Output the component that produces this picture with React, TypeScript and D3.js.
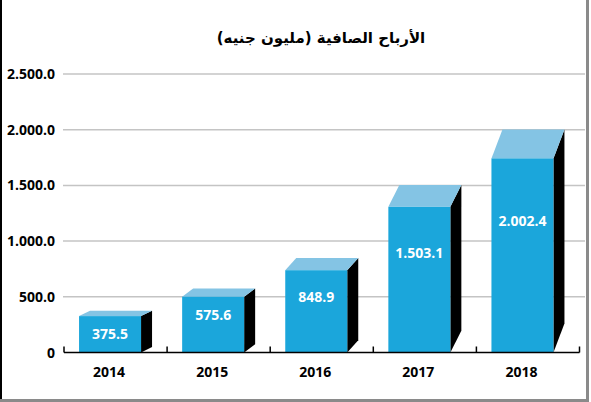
import React from 'react';
import * as d3 from 'd3';

// chart data
const years = ['2014', '2015', '2016', '2017', '2018'];
const profits = [375.5, 575.6, 848.9, 1503.1, 2002.4];
const yTicks = [0, 500, 1000, 1500, 2000, 2500];
const title = 'الأرباح الصافية (مليون جنيه)';

const W = 591;
const H = 402;
const margin = { top: 74, left: 64, right: 9.5, bottom: 49.5 };

const locale = d3.formatLocale({ decimal: '.', thousands: '.', grouping: [3], currency: ['', ''] });
const fmt = locale.format(',.1f');
const tickFmt = (d: number) => (d === 0 ? '0' : fmt(d));

const FRONT = '#1ba6db';
const TOP = '#84c4e4';
const SIDE = '#000000';
const FONT = '"Open Sans", "DejaVu Sans", sans-serif';

const App = () => {
  const y = d3.scaleLinear()
    .domain([0, 2500])
    .range([H - margin.bottom, margin.top]);

  const x = d3.scaleBand()
    .domain(years)
    .range([margin.left, W - margin.right - 2])
    .paddingInner(0)
    .paddingOuter(0);

  const y0 = y(0);
  const frontW = 62;
  const depthX = 11;
  const frontRatio = 0.87; // front face is shorter, the back edge marks the value

  const boundaries = years.map(d => x(d)!).concat([x(years[years.length - 1])! + x.bandwidth()]);

  return (
    <svg width={W} height={H} style={{ position: 'absolute', left: 0, top: 0, background: '#fff' }}>
      {/* frame */}
      <rect x={0} y={0} width={2} height={H} fill="#000" />
      <rect x={586} y={0} width={3} height={H} fill="#8a8a8a" />
      <rect x={0} y={399} width={589} height={3} fill="#8a8a8a" />

      {/* title */}
      <text x={321} y={43} textAnchor="middle" direction="rtl"
        style={{ fontFamily: '"DejaVu Sans", sans-serif', fontWeight: 'bold', fontSize: 15 }}>
        {title}
      </text>

      {/* grid lines */}
      {yTicks.filter(t => t > 0).map(t => (
        <line key={t} x1={63} x2={585} y1={y(t)} y2={y(t)} stroke="#c4c4c4" strokeWidth={1.5} />
      ))}

      {/* y labels */}
      {yTicks.map(t => (
        <text key={t} x={55} y={y(t)} dy="0.36em" textAnchor="end"
          style={{ fontFamily: FONT, fontWeight: 'bold', fontSize: 14 }}>
          {tickFmt(t)}
        </text>
      ))}

      {/* bars */}
      {years.map((yr, i) => {
        const v = profits[i];
        const total = frontW + depthX;
        const fx = x(yr)! + (x.bandwidth() - total) / 2;
        const fTop = y(v * frontRatio);
        const bTop = y(v);
        const dy = fTop - bTop;
        const fH = y0 - fTop;
        const labelY = fTop + Math.max(18, fH * 0.32);
        return (
          <g key={yr}>
            <polygon
              points={`${fx + frontW},${fTop} ${fx + frontW + depthX},${bTop} ${fx + frontW + depthX},${y0 - dy} ${fx + frontW},${y0}`}
              fill={SIDE} />
            <polygon
              points={`${fx},${fTop} ${fx + depthX},${bTop} ${fx + frontW + depthX},${bTop} ${fx + frontW},${fTop}`}
              fill={TOP} />
            <rect x={fx} y={fTop} width={frontW} height={fH} fill={FRONT} />
            <text x={fx + frontW / 2} y={labelY} dy="0.36em" textAnchor="middle" fill="#fff"
              style={{ fontFamily: FONT, fontWeight: 'bold', fontSize: 14 }}>
              {fmt(v)}
            </text>
            <text x={fx + frontW / 2 - 1} y={372} dy="0.36em" textAnchor="middle"
              style={{ fontFamily: FONT, fontWeight: 'bold', fontSize: 14 }}>
              {yr}
            </text>
          </g>
        );
      })}

      {/* x axis */}
      <line x1={boundaries[0]} x2={boundaries[boundaries.length - 1]} y1={y0} y2={y0} stroke="#000" strokeWidth={1.5} />
      {boundaries.map((b, i) => (
        <line key={i} x1={b} x2={b} y1={y0} y2={y0 - 6} stroke="#000" strokeWidth={1.5} />
      ))}
    </svg>
  );
};

export default App;
